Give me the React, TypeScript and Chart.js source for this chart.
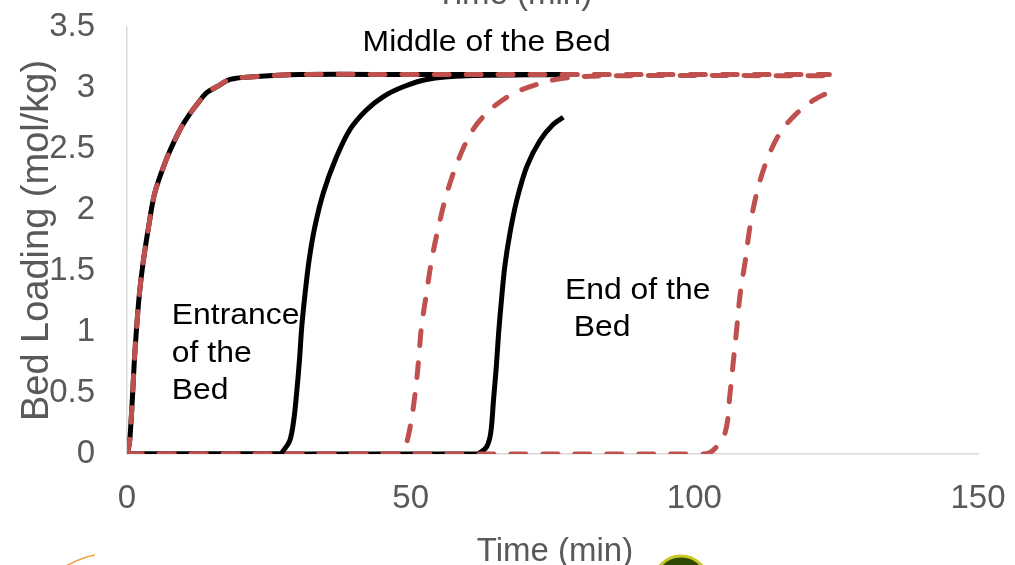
import React, { useEffect, useRef } from "react";
import { Chart, registerables } from "chart.js";

Chart.register(...registerables);

// ---------------- data ----------------
// Entrance of the bed (same profile for both runs; the dashed run continues longer)
const entranceTime = [0, 0.4, 0.65, 1.0, 1.3, 1.7, 2.2, 2.9, 3.8, 4.9, 6.9, 8.2, 9.6, 11.1, 12.4, 14.0, 15.8, 18.2, 21.7, 30.5, 50, 77];
const entranceLoading = [0, 0.08, 0.22, 0.5, 0.77, 1.04, 1.32, 1.59, 1.86, 2.14, 2.41, 2.55, 2.68, 2.79, 2.87, 2.96, 3.01, 3.07, 3.09, 3.11, 3.11, 3.11];
const entranceDashedTime = [0, 0.4, 0.65, 1.0, 1.3, 1.7, 2.2, 2.9, 3.8, 4.9, 6.9, 8.2, 9.6, 11.1, 12.4, 14.0, 15.8, 18.2, 21.7, 30.5, 50, 77, 100, 123.8];
const entranceDashedLoading = [0, 0.08, 0.22, 0.5, 0.77, 1.04, 1.32, 1.59, 1.86, 2.14, 2.41, 2.55, 2.68, 2.79, 2.87, 2.96, 3.01, 3.07, 3.09, 3.11, 3.11, 3.11, 3.11, 3.11];

// Middle of the bed
const middleTime = [0, 27.0, 27.6, 28.7, 29.4, 29.9, 30.4, 30.8, 31.4, 32.1, 33.1, 34.6, 36.7, 39.3, 42.2, 45.2, 48.7, 52.8, 60, 77];
const middleLoading = [0, 0, 0.03, 0.11, 0.28, 0.5, 0.77, 1.04, 1.32, 1.59, 1.86, 2.14, 2.41, 2.66, 2.82, 2.93, 3.01, 3.07, 3.1, 3.11];
const middleDashedTime = [0, 47.8, 49.0, 49.9, 50.8, 51.4, 51.9, 52.8, 53.7, 54.9, 56.4, 58.4, 61.0, 64.0, 67.5, 71.6, 76.9, 85, 123.8];
const middleDashedLoading = [0, 0, 0.06, 0.22, 0.5, 0.77, 1.04, 1.32, 1.59, 1.86, 2.14, 2.41, 2.66, 2.82, 2.94, 3.02, 3.08, 3.1, 3.1];

// End of the bed
const endTime = [0, 61.6, 62.2, 63.4, 64.1, 64.6, 65.1, 65.5, 66.0, 66.6, 67.5, 68.7, 70.5, 72.8, 75.1, 76.9];
const endLoading = [0, 0, 0.01, 0.06, 0.17, 0.44, 0.72, 0.99, 1.26, 1.54, 1.81, 2.08, 2.36, 2.57, 2.7, 2.76];
const endDashedTime = [0, 101.5, 103.3, 105.4, 106.3, 106.9, 107.5, 108.1, 109.0, 109.8, 111.0, 112.8, 115.1, 118.0, 121.0, 123.9];
const endDashedLoading = [0, 0, 0.03, 0.17, 0.5, 0.77, 1.04, 1.32, 1.59, 1.86, 2.14, 2.41, 2.63, 2.79, 2.9, 2.97];

const xTickValues = [0, 50, 100, 150];
const yTickValues = [0, 0.5, 1, 1.5, 2, 2.5, 3, 3.5];

// Text labels placed in data coordinates
const labelTexts = ["Middle of the Bed", "Entrance", "of the", "Bed", "End of the", " Bed"];
const labelX = [63.4, 7.9, 7.9, 7.9, 77.2, 77.2];
const labelY = [3.37, 1.13, 0.82, 0.52, 1.34, 1.03];
const labelAlign = ["center", "left", "left", "left", "left", "left"];

const FONT = "'Liberation Sans', Arial, sans-serif";
const RED = "#C0504D";
const GRAY_TEXT = "#595959";
const AXIS = "#D9D9D9";

const pts = (xs: number[], ys: number[]) => xs.map((x, i) => ({ x, y: ys[i] }));

const overlayPlugin = {
  id: "overlay",
  afterDraw(chart: any) {
    const { ctx, chartArea, scales } = chart;
    const xs = scales.x;
    const ys = scales.y;
    ctx.save();
    // annotations
    ctx.fillStyle = "#000";
    ctx.textBaseline = "middle";
    for (let i = 0; i < labelTexts.length; i++) {
      const px = xs.getPixelForValue(labelX[i]);
      const py = ys.getPixelForValue(labelY[i]);
      ctx.save();
      ctx.translate(px, py);
      ctx.scale(1.1, 1);
      ctx.font = `29px ${FONT}`;
      ctx.textAlign = labelAlign[i] as CanvasTextAlign;
      ctx.fillText(labelTexts[i], 0, 0);
      ctx.restore();
    }
    // y axis title (overlapping the tick labels as in the original)
    ctx.save();
    ctx.fillStyle = GRAY_TEXT;
    ctx.font = `38px ${FONT}`;
    ctx.translate(38, (chartArea.top + chartArea.bottom) / 2);
    ctx.rotate(-Math.PI / 2);
    ctx.textAlign = "center";
    ctx.textBaseline = "middle";
    ctx.fillText("Bed Loading (mol/kg)", 0, 0);
    ctx.restore();
    // x axis title (bottom, partly cut) and the cut title from above
    ctx.fillStyle = GRAY_TEXT;
    ctx.font = `33px ${FONT}`;
    ctx.textAlign = "center";
    ctx.textBaseline = "alphabetic";
    ctx.fillText("Time (min)", 555, 561);
    ctx.fillText("Time (min)", 514, 4);
    // decorations at the bottom edge
    ctx.strokeStyle = "#F0A040";
    ctx.lineWidth = 1.5;
    ctx.beginPath();
    ctx.moveTo(66, 566);
    ctx.quadraticCurveTo(80, 558, 95, 555);
    ctx.stroke();
    ctx.beginPath();
    ctx.arc(681, 583, 27, 0, Math.PI * 2);
    ctx.fillStyle = "#2F4A05";
    ctx.fill();
    ctx.lineWidth = 3;
    ctx.strokeStyle = "#C9C628";
    ctx.stroke();
    ctx.restore();
  },
};

export default function App() {
  const canvasRef = useRef<HTMLCanvasElement>(null);

  useEffect(() => {
    const canvas = canvasRef.current;
    if (!canvas) return;
    const solid = (xs: number[], ys: number[]) => ({
      data: pts(xs, ys),
      borderColor: "#000000",
      borderWidth: 5,
      pointRadius: 0,
      tension: 0.35,
      order: 1,
    });
    const dashed = (xs: number[], ys: number[]) => ({
      data: pts(xs, ys),
      borderColor: RED,
      borderWidth: 5,
      borderDash: [15, 17],
      borderCapStyle: "round",
      pointRadius: 0,
      tension: 0.35,
      order: 0,
    });
    const chart = new Chart(canvas, {
      type: "line",
      data: {
        datasets: [
          dashed(entranceDashedTime, entranceDashedLoading),
          dashed(middleDashedTime, middleDashedLoading),
          dashed(endDashedTime, endDashedLoading),
          solid(entranceTime, entranceLoading),
          solid(middleTime, middleLoading),
          solid(endTime, endLoading),
        ] as any,
      },
      options: {
        animation: false,
        responsive: false,
        layout: { padding: { top: 27, right: 37, left: 0, bottom: 0 } },
        plugins: { legend: { display: false }, tooltip: { enabled: false } },
        scales: {
          x: {
            type: "linear",
            min: 0,
            max: 150,
            afterBuildTicks: (s: any) => {
              s.ticks = xTickValues.map((v) => ({ value: v }));
            },
            afterFit: (s: any) => {
              s.height = 111;
              s.paddingLeft = 0;
              s.paddingRight = 0;
            },
            grid: { display: false, drawTicks: false },
            border: { display: true, color: AXIS, width: 1.5 },
            ticks: {
              font: { size: 33, family: FONT },
              color: GRAY_TEXT,
              padding: 25,
              maxRotation: 0,
              autoSkip: false,
              callback: (v: any) => String(v),
            },
          },
          y: {
            type: "linear",
            min: 0,
            max: 3.5,
            afterBuildTicks: (s: any) => {
              s.ticks = yTickValues.map((v) => ({ value: v }));
            },
            afterFit: (s: any) => {
              s.width = 127;
              s.paddingTop = 0;
              s.paddingBottom = 0;
            },
            grid: { display: false, drawTicks: false },
            border: { display: true, color: AXIS, width: 1.5 },
            ticks: {
              font: { size: 33, family: FONT },
              color: GRAY_TEXT,
              padding: 32,
              autoSkip: false,
              callback: (v: any) => String(v),
            },
          },
        },
      } as any,
      plugins: [overlayPlugin],
    });
    return () => chart.destroy();
  }, []);

  return (
    <div style={{ position: "absolute", left: 0, top: 0, width: 1015, height: 565, background: "#fff", overflow: "hidden" }}>
      <canvas ref={canvasRef} width={1015} height={565} style={{ display: "block" }} />
    </div>
  );
}
